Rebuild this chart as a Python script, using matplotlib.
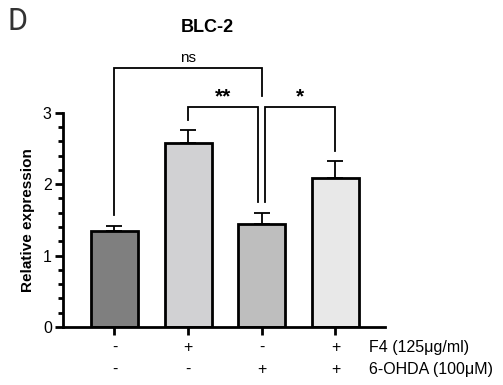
import matplotlib.pyplot as plt
from matplotlib.ticker import MultipleLocator

plt.rcParams['font.family'] = ['Liberation Sans', 'DejaVu Sans']

# data
groups = ['Control', 'F4', '6-OHDA', 'F4 + 6-OHDA']
means = [1.35, 2.58, 1.44, 2.09]
errors = [0.07, 0.18, 0.16, 0.23]
colors = ['#7f7f7f', '#d1d1d3', '#bebebe', '#e8e8e8']
f4_row = ['-', '+', '-', '+']
ohda_row = ['-', '-', '+', '+']
row_labels = ['F4 (125\u03bcg/ml)', '6-OHDA (100\u03bcM)']

fig = plt.figure(figsize=(5.03, 3.85), dpi=100)
ax = fig.add_axes([0.125, 0.151, 0.64, 0.556])

x = list(range(len(groups)))
ax.bar(x, means, width=0.64, color=colors, edgecolor='black', linewidth=2, zorder=2)
ax.errorbar(x, means, yerr=[[0] * len(errors), errors], fmt='none', ecolor='black',
            elinewidth=1.3, capsize=6, capthick=1.3, zorder=1)

ax.set_xlim(-0.70, 3.67)
ax.set_ylim(0, 3)
ax.yaxis.set_major_locator(MultipleLocator(1))
ax.yaxis.set_minor_locator(MultipleLocator(0.2))
ax.set_xticks(x)
ax.set_xticklabels([])
ax.tick_params(axis='y', which='major', length=6, width=2, labelsize=11.5, pad=2)
ax.tick_params(axis='y', which='minor', length=3.6, width=2)
ax.tick_params(axis='x', length=6, width=2)
for s in ['top', 'right']:
    ax.spines[s].set_visible(False)
for s in ['left', 'bottom']:
    ax.spines[s].set_linewidth(2)

ax.set_ylabel('Relative expression', fontsize=11, fontweight='bold', labelpad=6)
ax.text(0.45, 1.397, 'BLC-2', transform=ax.transAxes, fontsize=13, fontweight='bold',
        ha='center', va='center')

# significance brackets
def bracket(x1, x2, y_top, y1, y2, text, ty, size, weight):
    ax.plot([x1, x1, x2, x2], [y1, y_top, y_top, y2], color='black', lw=1.3,
            clip_on=False, solid_joinstyle='miter')
    ax.text((x1 + x2) / 2, ty, text, ha='center', va='center', fontsize=size,
            fontweight=weight, clip_on=False)

bracket(0, 2, 3.63, 1.57, 3.23, 'ns', 3.77, 11, 'normal')
bracket(1, 1.95, 3.085, 2.90, 1.75, '**', 3.23, 15, 'bold')
bracket(2.05, 3, 3.085, 1.75, 2.47, '*', 3.23, 15, 'bold')

# treatment table below axis
trans = ax.get_xaxis_transform()
for i in x:
    ax.text(i, -0.098, f4_row[i], ha='center', va='center', fontsize=11.5, transform=trans)
    ax.text(i, -0.200, ohda_row[i], ha='center', va='center', fontsize=11.5, transform=trans)
ax.text(3.46, -0.098, row_labels[0], ha='left', va='center', fontsize=11.5, transform=trans)
ax.text(3.46, -0.200, row_labels[1], ha='left', va='center', fontsize=11.5, transform=trans)

fig.text(0.014, 0.944, 'D', fontsize=22, family='Roboto', color='#333333',
         ha='left', va='center')

fig.savefig('out.png', dpi=100)
